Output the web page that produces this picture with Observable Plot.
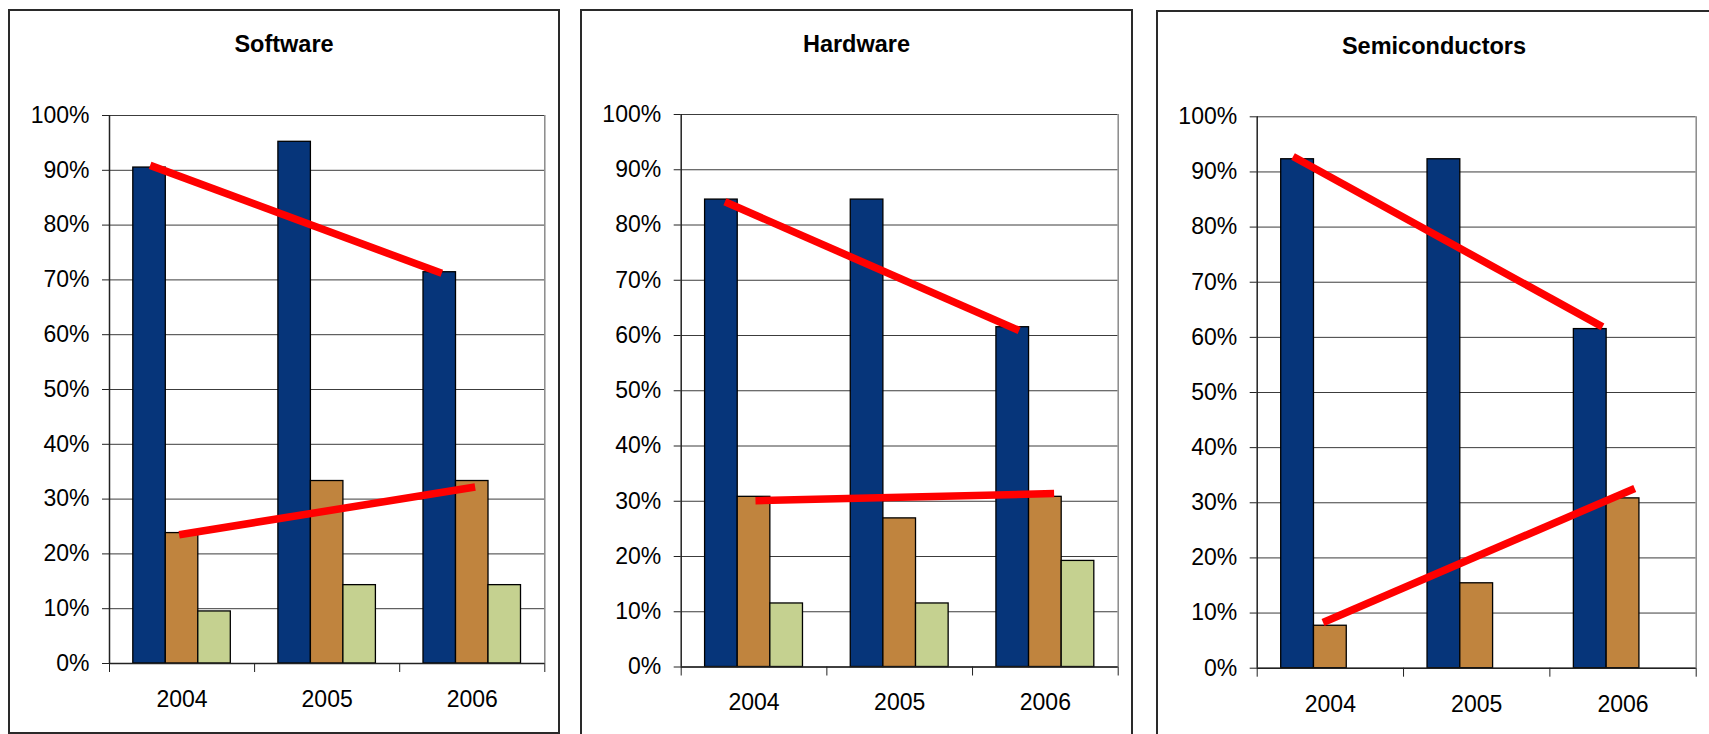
<!DOCTYPE html>
<html>
<head>
<meta charset="utf-8">
<script src="https://cdn.jsdelivr.net/npm/d3@7"></script>
<script src="https://cdn.jsdelivr.net/npm/@observablehq/plot@0.6"></script>
<style>
  html, body { margin: 0; padding: 0; background: #fff; }
  body { position: relative; width: 1709px; height: 734px; overflow: hidden;
         font-family: "Liberation Sans", Arial, sans-serif; }
  .frame { position: absolute; box-sizing: border-box; border: 2px solid #2a2a2a; }
  .title { position: absolute; text-align: center; font-weight: bold; font-size: 23.5px;
           line-height: 1; color: #000; }
  .chart { position: absolute; top: 0; }
</style>
</head>
<body>
<script>
// Years on the x axis and the three series shown in every panel
const years = [2004, 2005, 2006];
const seriesNames = ["Series 1", "Series 2", "Series 3"];
const seriesColors = ["#06357a", "#c0843e", "#c5d190"];
const yTicks = [0, 10, 20, 30, 40, 50, 60, 70, 80, 90, 100];

// Share of respondents (%) per series, one array per series, by year
const softwareS1 = [90.5, 95.2, 71.4];
const softwareS2 = [23.8, 33.3, 33.3];
const softwareS3 = [9.5, 14.3, 14.3];

const hardwareS1 = [84.6, 84.6, 61.5];
const hardwareS2 = [30.8, 26.9, 30.8];
const hardwareS3 = [11.5, 11.5, 19.2];

const semiS1 = [92.3, 92.3, 61.5];
const semiS2 = [7.7, 15.4, 30.8];
const semiS3 = [null, null, null];

// Trend lines: [start year, start %, end year, end %]
const softwareTrends = [[2003.78, 90.9, 2005.79, 71.2], [2003.98, 23.5, 2006.02, 32.2]];
const hardwareTrends = [[2003.80, 84.2, 2005.82, 60.9], [2004.01, 30.1, 2006.06, 31.4]];
const semiTrends = [[2003.745, 92.8, 2005.86, 61.9], [2003.95, 8.3, 2006.08, 32.6]];

const font = '"Liberation Sans", Arial, sans-serif';

// Layout of each panel: frame box and plot area in page pixels
const panels = [
  {title: "Software", series: [softwareS1, softwareS2, softwareS3], trends: softwareTrends,
   frame: {left: 8, top: 9, width: 552, height: 725}, titleTop: 33,
   svg: {left: 8, width: 552}, margin: {left: 101, right: 15.7, top: 115, bottom: 71}},
  {title: "Hardware", series: [hardwareS1, hardwareS2, hardwareS3], trends: hardwareTrends,
   frame: {left: 580, top: 9, width: 553, height: 740}, titleTop: 33,
   svg: {left: 580, width: 553}, margin: {left: 100.7, right: 15.3, top: 114, bottom: 67.5}},
  {title: "Semiconductors", series: [semiS1, semiS2, semiS3], trends: semiTrends,
   frame: {left: 1156, top: 10, width: 556, height: 740}, titleTop: 35,
   svg: {left: 1156, width: 553}, margin: {left: 100.7, right: 13.3, top: 116.3, bottom: 66.3}}
];

// Grouped bars inside each year band (in year units)
const groupWidth = 0.672;
const barWidth = groupWidth / seriesNames.length;

function drawPanel(p) {
  const frame = document.createElement("div");
  frame.className = "frame";
  Object.assign(frame.style, {left: p.frame.left + "px", top: p.frame.top + "px",
    width: p.frame.width + "px", height: p.frame.height + "px"});
  document.body.appendChild(frame);

  const bars = [];
  p.series.forEach((vals, k) => {
    vals.forEach((v, i) => {
      if (v == null) return;
      const x1 = years[i] - groupWidth / 2 + k * barWidth;
      bars.push({year: years[i], series: seriesNames[k], value: v, x1, x2: x1 + barWidth});
    });
  });
  const trends = p.trends.map(([x1, y1, x2, y2]) => ({x1, y1, x2, y2}));
  const bounds = [years[0] - 0.5, ...years.map(y => y + 0.5)];

  const chart = Plot.plot({
    width: p.svg.width,
    height: 734,
    marginLeft: p.margin.left,
    marginRight: p.margin.right,
    marginTop: p.margin.top,
    marginBottom: p.margin.bottom,
    style: {fontFamily: font, fontSize: "23px", color: "#000", background: "transparent", overflow: "visible"},
    x: {type: "linear", domain: [bounds[0], bounds[bounds.length - 1]]},
    y: {domain: [0, 100]},
    color: {domain: seriesNames, range: seriesColors},
    marks: [
      Plot.ruleY(yTicks, {stroke: "#3c3c3c", strokeWidth: 1}),
      Plot.ruleX([bounds[bounds.length - 1]], {stroke: "#8a8a8a", strokeWidth: 1.5}),
      Plot.rectY(bars, {x1: "x1", x2: "x2", y: "value", fill: "series", stroke: "#000", strokeWidth: 1.3}),
      Plot.link(trends, {x1: "x1", y1: "y1", x2: "x2", y2: "y2", stroke: "#ff0000", strokeWidth: 7.5, strokeLinecap: "butt"}),
      Plot.ruleX([bounds[0]], {stroke: "#222", strokeWidth: 1.5}),
      Plot.ruleY([0], {stroke: "#222", strokeWidth: 1.5}),
      Plot.axisY({ticks: yTicks, tickFormat: d => d + "%", tickSize: 7, tickPadding: 13,
                  stroke: "#222", label: null, fontSize: 23}),
      Plot.axisX({ticks: bounds, tickFormat: () => "", tickSize: 9, stroke: "#222", label: null}),
      Plot.axisX({ticks: years, tickFormat: d => String(d), tickSize: 0, tickPadding: 27,
                  label: null, fontSize: 23})
    ]
  });
  chart.classList.add("chart");
  chart.style.left = p.svg.left + "px";
  document.body.appendChild(chart);

  const title = document.createElement("div");
  title.className = "title";
  title.textContent = p.title;
  Object.assign(title.style, {left: p.frame.left + "px", width: p.frame.width + "px", top: p.titleTop + "px"});
  document.body.appendChild(title);
}

panels.forEach(drawPanel);
</script>
</body>
</html>
